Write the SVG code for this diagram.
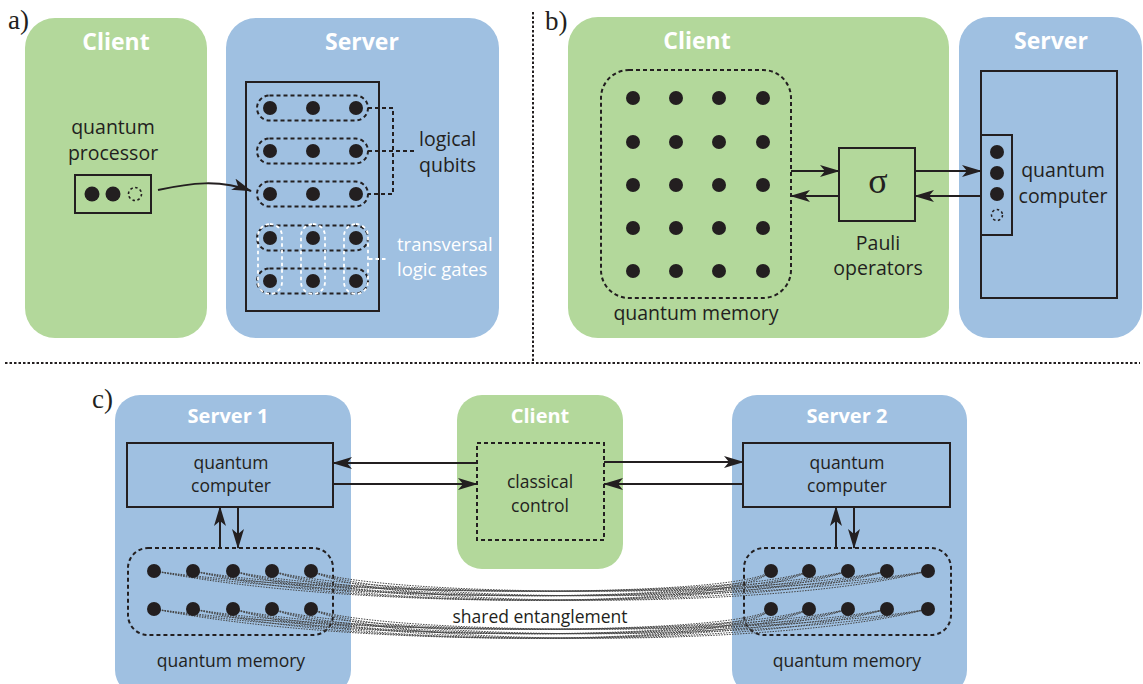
<svg xmlns="http://www.w3.org/2000/svg" width="1143" height="684" viewBox="0 0 1143 684">
<defs>
<style>
.green{fill:#b3d89b}
.blue{fill:#9fc0e1}
.title{font-family:"Open Sans","Liberation Sans",sans-serif;font-weight:bold;fill:#fff;text-anchor:middle}
.lbl{font-family:"Open Sans","Liberation Sans",sans-serif;fill:#231f20;text-anchor:middle}
.pl{font-family:"Liberation Serif",serif;fill:#231f20;font-size:27px}
.box{fill:none;stroke:#231f20;stroke-width:2}
.dash{fill:none;stroke:#231f20;stroke-width:2;stroke-dasharray:4 3}
.wdash{fill:none;stroke:#fff;stroke-width:1.8;stroke-dasharray:3.5 3}
.dot{fill:#231f20}
.arr{fill:none;stroke:#231f20;stroke-width:2;marker-end:url(#ah)}
.ent{fill:none;stroke:#444;stroke-width:1;stroke-dasharray:1.5 1.2}
.sep{fill:none;stroke:#231f20;stroke-width:2;stroke-dasharray:2.5 2}
</style>
<marker id="ah" markerWidth="20" markerHeight="12" refX="19" refY="6" orient="auto" markerUnits="userSpaceOnUse">
<path d="M0,0 L20,6 L0,12 L5,6 z" fill="#231f20"/>
</marker>
</defs>

<!-- separators -->
<g id="separators">
<line class="sep" x1="533" y1="12" x2="533" y2="363"/>
<line class="sep" x1="5" y1="363" x2="1140" y2="363"/>
</g>

<!-- Panel a -->
<text class="pl" x="8" y="29">a)</text>
<g id="a-client">
<rect class="green" x="25" y="18" width="182" height="320" rx="30"/>
<text class="title" x="116" y="50" font-size="23">Client</text>
<text class="lbl" x="113" y="134" font-size="19.5">quantum</text>
<text class="lbl" x="113" y="160" font-size="19.5">processor</text>
<rect class="box" x="75" y="175" width="76" height="38"/>
<circle class="dot" cx="92" cy="194" r="7.5"/>
<circle class="dot" cx="113" cy="194" r="7.5"/>
<circle cx="135" cy="194" r="6.5" fill="none" stroke="#231f20" stroke-width="1.6" stroke-dasharray="2.5 2.5"/>
</g>
<g id="a-server">
<rect class="blue" x="226" y="18" width="273" height="320" rx="30"/>
<text class="title" x="362" y="50" font-size="23">Server</text>
<rect class="box" x="246" y="82" width="133" height="229"/>
<rect class="dash" x="257" y="95.5" width="111" height="25" rx="12.5"/>
<rect class="dash" x="257" y="138.5" width="111" height="25" rx="12.5"/>
<rect class="dash" x="257" y="181.5" width="111" height="25" rx="12.5"/>
<rect class="dash" x="257" y="225.5" width="111" height="25" rx="12.5"/>
<rect class="dash" x="257" y="268.5" width="111" height="25" rx="12.5"/>
<rect class="wdash" x="258" y="224" width="24" height="70" rx="12"/>
<rect class="wdash" x="301" y="224" width="24" height="70" rx="12"/>
<rect class="wdash" x="344" y="224" width="24" height="70" rx="12"/>
<g class="dot">
<circle cx="270" cy="108" r="7"/><circle cx="313" cy="108" r="7"/><circle cx="356" cy="108" r="7"/>
<circle cx="270" cy="151" r="7"/><circle cx="313" cy="151" r="7"/><circle cx="356" cy="151" r="7"/>
<circle cx="270" cy="194" r="7"/><circle cx="313" cy="194" r="7"/><circle cx="356" cy="194" r="7"/>
<circle cx="270" cy="238" r="7"/><circle cx="313" cy="238" r="7"/><circle cx="356" cy="238" r="7"/>
<circle cx="270" cy="281" r="7"/><circle cx="313" cy="281" r="7"/><circle cx="356" cy="281" r="7"/>
</g>
<path class="dash" d="M368,108 H393 V194 H368 M368,151 H416"/>
<text class="lbl" x="419" y="146" font-size="19.5" style="text-anchor:start">logical</text>
<text class="lbl" x="419" y="172" font-size="19.5" style="text-anchor:start">qubits</text>
<path class="wdash" d="M369,259 H388"/>
<text class="lbl" x="397" y="251" font-size="18.5" style="text-anchor:start;fill:#fff">transversal</text>
<text class="lbl" x="397" y="276" font-size="18.5" style="text-anchor:start;fill:#fff">logic gates</text>
</g>

<!-- Panel b -->
<text class="pl" x="545" y="30">b)</text>
<g id="b-client">
<rect class="green" x="568" y="17" width="381" height="321" rx="30"/>
<text class="title" x="697" y="49" font-size="23">Client</text>
<rect class="dash" x="601" y="70" width="190" height="228" rx="28"/>
<g class="dot">
<circle cx="633" cy="98" r="7"/><circle cx="676" cy="98" r="7"/><circle cx="719" cy="98" r="7"/><circle cx="763" cy="98" r="7"/>
<circle cx="633" cy="142" r="7"/><circle cx="676" cy="142" r="7"/><circle cx="719" cy="142" r="7"/><circle cx="763" cy="142" r="7"/>
<circle cx="633" cy="185" r="7"/><circle cx="676" cy="185" r="7"/><circle cx="719" cy="185" r="7"/><circle cx="763" cy="185" r="7"/>
<circle cx="633" cy="228" r="7"/><circle cx="676" cy="228" r="7"/><circle cx="719" cy="228" r="7"/><circle cx="763" cy="228" r="7"/>
<circle cx="633" cy="271" r="7"/><circle cx="676" cy="271" r="7"/><circle cx="719" cy="271" r="7"/><circle cx="763" cy="271" r="7"/>
</g>
<text class="lbl" x="696" y="320" font-size="19.5">quantum memory</text>
</g>
<g id="b-pauli">
<rect class="box" x="839" y="148" width="76" height="73"/>
<text x="878" y="193" font-family="'Liberation Serif',serif" font-size="36" fill="#231f20" text-anchor="middle">σ</text>
<text class="lbl" x="878" y="250" font-size="19.5">Pauli</text>
<text class="lbl" x="878" y="275" font-size="19.5">operators</text>
</g>
<g id="b-server">
<rect class="blue" x="959" y="17" width="183" height="321" rx="30"/>
<text class="title" x="1051" y="49" font-size="23">Server</text>
<rect class="box" x="981" y="71" width="136" height="227"/>
<rect class="box" x="981" y="135" width="31" height="100"/>
<circle class="dot" cx="997" cy="152" r="7"/>
<circle class="dot" cx="997" cy="173" r="7"/>
<circle class="dot" cx="997" cy="194" r="7"/>
<circle cx="997" cy="215" r="5.5" fill="none" stroke="#231f20" stroke-width="1.5" stroke-dasharray="2.5 2.5"/>
<text class="lbl" x="1063" y="177" font-size="19.5">quantum</text>
<text class="lbl" x="1063" y="203" font-size="19.5">computer</text>
</g>

<!-- Panel c -->
<text class="pl" x="92" y="408">c)</text>
<g id="c-server1">
<rect class="blue" x="115" y="395" width="236" height="300" rx="25"/>
<text class="title" x="228" y="423" font-size="20">Server 1</text>
<rect class="box" x="127" y="443" width="206" height="64"/>
<text class="lbl" x="231" y="469" font-size="17.5">quantum</text>
<text class="lbl" x="231" y="492" font-size="17.5">computer</text>
<rect class="dash" x="128" y="548" width="205" height="87" rx="20"/>
<text class="lbl" x="231" y="667" font-size="17.5">quantum memory</text>
</g>
<g id="c-client">
<rect class="green" x="457" y="395" width="166" height="174" rx="25"/>
<text class="title" x="540" y="423" font-size="20">Client</text>
<rect class="dash" x="477" y="443" width="127" height="97"/>
<text class="lbl" x="540" y="488" font-size="17.5">classical</text>
<text class="lbl" x="540" y="512" font-size="17.5">control</text>
</g>
<g id="c-server2">
<rect class="blue" x="732" y="395" width="235" height="300" rx="25"/>
<text class="title" x="847" y="423" font-size="20">Server 2</text>
<rect class="box" x="743" y="443" width="207" height="64"/>
<text class="lbl" x="847" y="469" font-size="17.5">quantum</text>
<text class="lbl" x="847" y="492" font-size="17.5">computer</text>
<rect class="dash" x="744" y="548" width="207" height="87" rx="20"/>
<text class="lbl" x="847" y="667" font-size="17.5">quantum memory</text>
</g>

<!-- connectors -->
<g id="connectors">
<path class="arr" d="M158,190 C190,183 220,179 251,191"/>
<line class="arr" x1="791" y1="171" x2="839" y2="171"/>
<line class="arr" x1="839" y1="196" x2="791" y2="196"/>
<line class="arr" x1="915" y1="171" x2="981" y2="171"/>
<line class="arr" x1="981" y1="196" x2="915" y2="196"/>
<line class="arr" x1="477" y1="463" x2="333" y2="463"/>
<line class="arr" x1="333" y1="484" x2="477" y2="484"/>
<line class="arr" x1="604" y1="462" x2="743" y2="462"/>
<line class="arr" x1="743" y1="484" x2="604" y2="484"/>
<line class="arr" x1="220" y1="548" x2="220" y2="507"/>
<line class="arr" x1="238" y1="507" x2="238" y2="548"/>
<line class="arr" x1="836" y1="548" x2="836" y2="507"/>
<line class="arr" x1="854" y1="507" x2="854" y2="548"/>
</g>

<g id="entanglement">
<path class="ent" d="M154,571 C350,598 740,598 771,571 M154,571 C350,604 740,604 771,571 M154,571 C350,610 740,610 771,571"/>
<path class="ent" d="M193,571 C350,598 740,598 809,571 M193,571 C350,604 740,604 809,571 M193,571 C350,610 740,610 809,571"/>
<path class="ent" d="M233,571 C350,598 740,598 848,571 M233,571 C350,604 740,604 848,571 M233,571 C350,610 740,610 848,571"/>
<path class="ent" d="M272,571 C370,598 760,598 887,571 M272,571 C370,604 760,604 887,571 M272,571 C370,610 760,610 887,571"/>
<path class="ent" d="M311,571 C390,598 780,598 928,571 M311,571 C390,604 780,604 928,571 M311,571 C390,610 780,610 928,571"/>
<path class="ent" d="M154,609 C350,636 740,636 771,609 M154,609 C350,642 740,642 771,609 M154,609 C350,648 740,648 771,609"/>
<path class="ent" d="M193,609 C350,636 740,636 809,609 M193,609 C350,642 740,642 809,609 M193,609 C350,648 740,648 809,609"/>
<path class="ent" d="M233,609 C350,636 740,636 848,609 M233,609 C350,642 740,642 848,609 M233,609 C350,648 740,648 848,609"/>
<path class="ent" d="M272,609 C370,636 760,636 887,609 M272,609 C370,642 760,642 887,609 M272,609 C370,648 760,648 887,609"/>
<path class="ent" d="M311,609 C390,636 780,636 928,609 M311,609 C390,642 780,642 928,609 M311,609 C390,648 780,648 928,609"/>
<text class="lbl" x="540" y="623" font-size="17.5">shared entanglement</text>
</g>

<g id="c-memory-dots" class="dot">
<circle cx="154" cy="571" r="7"/><circle cx="193" cy="571" r="7"/><circle cx="233" cy="571" r="7"/><circle cx="272" cy="571" r="7"/><circle cx="311" cy="571" r="7"/>
<circle cx="154" cy="609" r="7"/><circle cx="193" cy="609" r="7"/><circle cx="233" cy="609" r="7"/><circle cx="272" cy="609" r="7"/><circle cx="311" cy="609" r="7"/>
<circle cx="771" cy="571" r="7"/><circle cx="809" cy="571" r="7"/><circle cx="848" cy="571" r="7"/><circle cx="887" cy="571" r="7"/><circle cx="928" cy="571" r="7"/>
<circle cx="771" cy="609" r="7"/><circle cx="809" cy="609" r="7"/><circle cx="848" cy="609" r="7"/><circle cx="887" cy="609" r="7"/><circle cx="928" cy="609" r="7"/>
</g>
</svg>
